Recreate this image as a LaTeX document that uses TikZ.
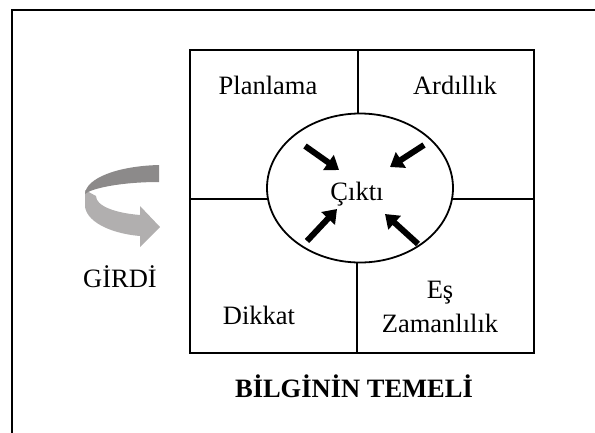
\documentclass[tikz,border=0pt]{standalone}
\usepackage{fontspec}
\setmainfont{Liberation Serif}
\usetikzlibrary{shapes.geometric,arrows.meta}
\definecolor{ribbondark}{HTML}{8C8A8A}
\definecolor{ribbonlight}{HTML}{B1AFAF}
\tikzset{
  lbl/.style={anchor=base,font=\fontsize{26.5}{29}\selectfont,inner sep=0pt},
  gridline/.style={line width=1.7pt,black},
  inarrow/.style={line width=6pt,-{Triangle[length=13pt,width=18pt]}}
}
\begin{document}
\begin{tikzpicture}[x=1pt,y=-1pt]
\clip (0,0) rectangle (595,432);
% frame (only top and left edges visible)
\coordinate (fbl) at (12,440);
\coordinate (ftl) at (12,10);
\coordinate (ftr) at (600,10);
\draw[line width=2.2pt] (fbl) -- (ftl) -- (ftr);
% grid
\coordinate (g1) at (190,50);
\coordinate (g2) at (534,353);
\draw[gridline] (g1) rectangle (g2);
\coordinate (vt1) at (358,50);
\coordinate (vt2) at (358,120);
\coordinate (vb1) at (357,255);
\coordinate (vb2) at (357,353);
\coordinate (hl1) at (190,199);
\coordinate (hl2) at (275,199);
\coordinate (hr1) at (445,199);
\coordinate (hr2) at (534,199);
\draw[gridline] (vt1) -- (vt2) (vb1) -- (vb2) (hl1) -- (hl2) (hr1) -- (hr2);
% ellipse
\node[ellipse,draw,line width=1.8pt,fill=white,minimum width=186pt,minimum height=149pt,inner sep=0pt] (cikti) at (360,188) {};
\node[lbl] (ciktitxt) at (357,200) {Çıktı};
% labels
\node[lbl] (planlama) at (268,94) {Planlama};
\node[lbl] (ardillik) at (455,94) {Ardıllık};
\node[lbl] (dikkat) at (259,324) {Dikkat};
\node[lbl] (es) at (440,298) {Eş};
\node[lbl] (zaman) at (440,332) {Zamanlılık};
\node[lbl,font=\fontsize{26.5}{29}\selectfont\bfseries] (temel) at (354,397) {BİLGİNİN TEMELİ};
\node[lbl] (girdi) at (120,287) {GİRDİ};
% inward arrows
\coordinate (a1s) at (305,146); \coordinate (a1e) at (339,170);
\coordinate (a2s) at (424,145); \coordinate (a2e) at (390,167);
\coordinate (a3s) at (307,241); \coordinate (a3e) at (337,209);
\coordinate (a4s) at (418,244); \coordinate (a4e) at (385,214);
\draw[inarrow] (a1s) -- (a1e);
\draw[inarrow] (a2s) -- (a2e);
\draw[inarrow] (a3s) -- (a3e);
\draw[inarrow] (a4s) -- (a4e);
% curved ribbon arrow
\fill[ribbonlight] (85,190) -- (85,207) .. controls (88,224) and (115,234) .. (140,236)
  -- (140,247) -- (160,227) -- (140,206) -- (140,215)
  .. controls (115,213) and (96,206) .. (96,196) -- cycle;
\fill[ribbondark] (159,165) .. controls (118,166) and (86,178) .. (85,194)
  .. controls (92,188) and (122,182) .. (159,182) -- cycle;
\end{tikzpicture}
\end{document}
